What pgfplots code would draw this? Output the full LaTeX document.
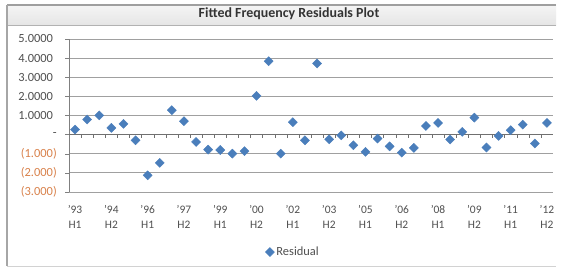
\documentclass[border=0pt]{standalone}
\usepackage{pgfplots}
\pgfplotsset{compat=1.18}
\usepackage{fontspec}
\setmainfont{Carlito}
\definecolor{blu}{HTML}{4A7EBB}
\definecolor{neg}{HTML}{D9824C}
\definecolor{pos}{HTML}{505050}
\definecolor{grd}{HTML}{A0A0A0}
\begin{document}
\begin{tikzpicture}
\begin{scope}[x=1bp,y=1bp]
\fill[white] (0,0) rectangle (563,269);
\shade[top color=gray!8, bottom color=gray!20] (7,244) rectangle (556,264);
\draw[gray!75, line width=1.2bp] (7,264) -- (556,264);
\draw[gray!60] (7,244) -- (556,244);
\draw[gray!70, line width=1.5bp] (7,264) -- (7,3);
\draw[gray!35] (7,3) -- (556,3);
\node[font=\fontsize{14}{16}\selectfont\bfseries, text=black!80] at (289,255) {Fitted Frequency Residuals Plot};
\end{scope}
\begin{axis}[
  at={(69bp,77.3bp)}, anchor=south west,
  scale only axis, width=484bp, height=152.4bp,
  xmin=-0.5, xmax=39.5, ymin=-3, ymax=5,
  axis lines*=left,
  x axis line style={draw=none},
  y axis line style={grd!80!black},
  ymajorgrids, grid style={grd},
  xtick={0,3,...,39},
  xticklabels={{'93\\H1},{'94\\H2},{'96\\H1},{'97\\H2},{'99\\H1},{'00\\H2},{'02\\H1},{'03\\H2},{'05\\H1},{'06\\H2},{'08\\H1},{'09\\H2},{'11\\H1},{'12\\H2}},
  xticklabel style={align=center, font=\fontsize{11.5}{15}\selectfont, text=pos, yshift=-6bp},
  major x tick style={draw=none},
  ytick={-3,-2,...,5},
  yticklabels={\textcolor{neg}{(3.000)},\textcolor{neg}{(2.000)},\textcolor{neg}{(1.000)},-\hspace{8bp},1.0000\phantom{)},2.0000\phantom{)},3.0000\phantom{)},4.0000\phantom{)},5.0000\phantom{)}},
  yticklabel style={font=\fontsize{12.5}{14}\selectfont, text=pos, anchor=east, inner sep=0pt, xshift=-8bp},
  tick align=outside, major tick length=4bp,
  major y tick style={grd!80!black},
  legend style={at={(0.463,-0.396)}, anchor=center, draw=none, fill=none, font=\fontsize{12.5}{14}\selectfont, text=pos, inner sep=1bp},
  legend cell align=left,
  clip=false,
]
\draw[grd!70!black] (axis cs:-0.5,0) -- (axis cs:39.5,0);
\pgfplotsinvokeforeach{0,...,38}{\draw[grd!70!black] (axis cs:#1+0.5,0) -- ++(0bp,-3bp);}
\addplot[only marks, mark=square*, mark size=3.2bp, mark options={rotate=45, fill=blu, draw=blu}] coordinates {
(0,0.26) (1,0.79) (2,1.01) (3,0.35) (4,0.56) (5,-0.30) (6,-2.14) (7,-1.49) (8,1.28) (9,0.70)
(10,-0.39) (11,-0.79) (12,-0.81) (13,-1.00) (14,-0.87) (15,2.03) (16,3.85) (17,-1.00) (18,0.65) (19,-0.30)
(20,3.73) (21,-0.25) (22,-0.04) (23,-0.56) (24,-0.91) (25,-0.21) (26,-0.62) (27,-0.95) (28,-0.70) (29,0.45)
(30,0.61) (31,-0.26) (32,0.14) (33,0.89) (34,-0.68) (35,-0.07) (36,0.23) (37,0.52) (38,-0.47) (39,0.61)
};
\addlegendentry{Residual}
\end{axis}
\end{tikzpicture}
\end{document}
